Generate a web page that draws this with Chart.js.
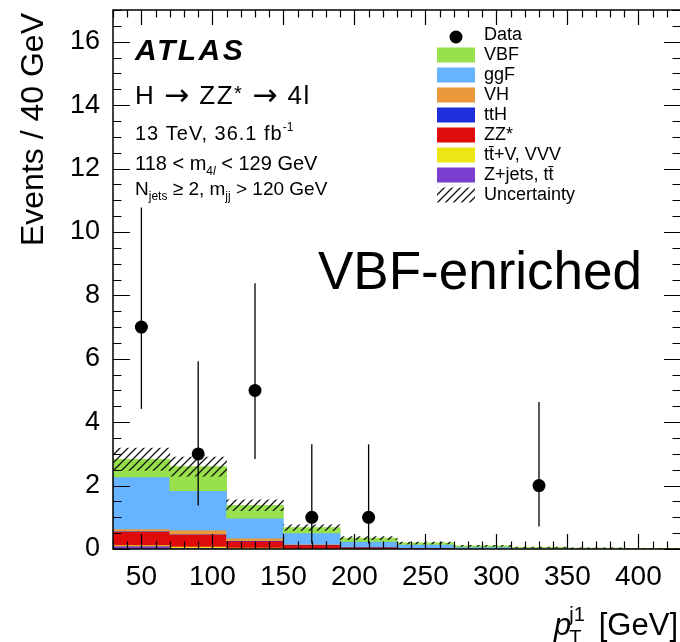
<!DOCTYPE html>
<html>
<head>
<meta charset="utf-8">
<script src="https://cdn.jsdelivr.net/npm/chart.js@4.4.1/dist/chart.umd.min.js"></script>
<style>
  html, body { margin: 0; padding: 0; background: #fff; overflow: hidden; }
  #wrap { width: 682px; height: 642px; }
</style>
</head>
<body>
<div id="wrap"><canvas id="c" width="682" height="642"></canvas></div>
<script>
// leading jet pT, 40 GeV bins from 30 to 430 GeV
const binCentres = [50, 90, 130, 170, 210, 250, 290, 330, 370, 410];

// expected yields per bin (stacked bottom -> top)
const zjets = [0.10, 0.04, 0.02, 0.01, 0.005, 0.003, 0, 0, 0, 0];
const ttv   = [0.03, 0.04, 0.03, 0.01, 0.005, 0.002, 0, 0, 0, 0];
const zz    = [0.42, 0.38, 0.20, 0.11, 0.05, 0.03, 0.01, 0.005, 0.003, 0.002];
const tth   = [0.01, 0.01, 0.01, 0.005, 0.002, 0.001, 0, 0, 0, 0];
const vh    = [0.07, 0.12, 0.08, 0.02, 0.01, 0.005, 0.003, 0, 0, 0];
const ggf   = [1.64, 1.25, 0.63, 0.35, 0.17, 0.10, 0.05, 0.02, 0.012, 0.008];
const vbf   = [0.56, 0.76, 0.41, 0.17, 0.10, 0.05, 0.035, 0.025, 0.015, 0.01];
const uncErr = [0.35, 0.30, 0.17, 0.09, 0.05, 0.03, 0.02, 0.01, 0.008, 0.005];

// observed data with asymmetric (Poisson) error bars
const dataX    = [50, 90, 130, 170, 210, 330];
const dataY    = [7, 3, 5, 1, 1, 2];
const dataLow  = [4.42, 1.37, 2.84, 0.17, 0.17, 0.71];
const dataHigh = [10.77, 5.92, 8.38, 3.30, 3.30, 4.64];

const xTickValues = [50, 100, 150, 200, 250, 300, 350, 400];
const yTickValues = [0, 2, 4, 6, 8, 10, 12, 14, 16];

const FONT = '"Liberation Sans", Arial, Helvetica, sans-serif';
Chart.defaults.color = '#000';
Chart.defaults.font.family = FONT;

// hatch pattern for the uncertainty band
const pc = document.createElement('canvas');
pc.width = 8; pc.height = 8;
const pg = pc.getContext('2d');
pg.strokeStyle = '#111';
pg.lineWidth = 1.3;
pg.beginPath();
pg.moveTo(0, 8); pg.lineTo(8, 0);
pg.moveTo(-2, 2); pg.lineTo(2, -2);
pg.moveTo(6, 10); pg.lineTo(10, 6);
pg.stroke();
const hatch = pg.createPattern(pc, 'repeat');

const components = [
  { name: 'Z+jets, tt\u0304', values: zjets, color: '#7a3fd0' },
  { name: 'tt\u0304+V, VVV', values: ttv,   color: '#ebe614' },
  { name: 'ZZ*',             values: zz,    color: '#e00b0b' },
  { name: 'ttH',             values: tth,   color: '#1f2fdc' },
  { name: 'VH',              values: vh,    color: '#ea9a3a' },
  { name: 'ggF',             values: ggf,   color: '#66b3ff' },
  { name: 'VBF',             values: vbf,   color: '#98e04c' }
];

const totals = binCentres.map(() => 0);
const barSets = components.map(c => {
  const data = binCentres.map((x, i) => {
    const lo = totals[i];
    totals[i] = lo + c.values[i];
    return { x: x, y: [lo, totals[i]] };
  });
  return {
    type: 'bar', label: c.name, data: data, backgroundColor: c.color,
    borderWidth: 0, grouped: false, categoryPercentage: 1, barPercentage: 1
  };
});

const uncSet = {
  type: 'bar', label: 'Uncertainty',
  data: binCentres.map((x, i) => ({ x: x, y: [totals[i] - uncErr[i], totals[i] + uncErr[i]] })),
  backgroundColor: hatch, borderWidth: 0, grouped: false, categoryPercentage: 1, barPercentage: 1
};

const dataSet = {
  type: 'scatter', label: 'Data',
  data: dataX.map((x, i) => ({ x: x, y: dataY[i] })),
  pointRadius: 6.5, pointBackgroundColor: '#000', pointBorderWidth: 0
};

function setFont(ctx, p) {
  ctx.font = (p.style || '') + ' ' + p.size + 'px ' + (p.family || FONT);
  ctx.letterSpacing = (p.ls || 0) + 'px';
}

function richWidth(ctx, parts) {
  let w = 0;
  parts.forEach(p => {
    setFont(ctx, p);
    if (!p.noAdvance) w += ctx.measureText(p.t).width + (p.dx || 0);
  });
  return w;
}

function drawRich(ctx, x, y, parts) {
  let cx = x;
  parts.forEach(p => {
    setFont(ctx, p);
    ctx.fillText(p.t, cx + (p.dx || 0), y + (p.dy || 0));
    if (!p.noAdvance) cx += ctx.measureText(p.t).width + (p.dx || 0);
  });
  ctx.letterSpacing = '0px';
}

const decor = {
  id: 'decor',
  afterDatasetsDraw(chart) {
    const ctx = chart.ctx, xs = chart.scales.x, ys = chart.scales.y;
    ctx.save();
    ctx.strokeStyle = '#000';
    ctx.lineWidth = 1.3;
    dataX.forEach((x, i) => {
      const px = xs.getPixelForValue(x);
      ctx.beginPath();
      ctx.moveTo(px, ys.getPixelForValue(dataLow[i]));
      ctx.lineTo(px, ys.getPixelForValue(dataHigh[i]));
      ctx.stroke();
    });
    ctx.restore();
  },
  afterDraw(chart) {
    const ctx = chart.ctx, a = chart.chartArea, xs = chart.scales.x, ys = chart.scales.y;
    ctx.save();
    ctx.strokeStyle = '#000';
    // inner ticks
    ctx.lineWidth = 1.2;
    ctx.beginPath();
    for (let v = xs.min; v <= xs.max + 1e-6; v += 10) {
      const px = Math.round(xs.getPixelForValue(v)) + 0.5;
      const len = v % 50 === 0 ? 15 : 7.5;
      ctx.moveTo(px, a.bottom); ctx.lineTo(px, a.bottom - len);
      ctx.moveTo(px, a.top); ctx.lineTo(px, a.top + len);
    }
    for (let v = ys.min; v <= ys.max + 1e-6; v += 0.5) {
      const py = Math.round(ys.getPixelForValue(v)) + 0.5;
      const len = v % 2 === 0 ? 17 : 8.5;
      ctx.moveTo(a.left, py); ctx.lineTo(a.left + len, py);
      ctx.moveTo(a.right, py); ctx.lineTo(a.right - len, py);
    }
    ctx.stroke();
    // frame
    ctx.lineWidth = 1.5;
    ctx.strokeRect(a.left, a.top, a.right - a.left, a.bottom - a.top);

    ctx.fillStyle = '#000';
    ctx.textBaseline = 'alphabetic';
    ctx.textAlign = 'left';

    // y axis title, top aligned like ROOT
    ctx.save();
    ctx.translate(43, 13);
    ctx.rotate(-Math.PI / 2);
    ctx.textAlign = 'right';
    ctx.font = '32px ' + FONT;
    ctx.fillText('Events / 40 GeV', 0, 0);
    ctx.restore();

    // labels
    drawRich(ctx, 135, 60, [{ t: 'ATLAS', size: 30, style: 'italic bold', ls: 2.5 }]);
    drawRich(ctx, 135, 104, [
      { t: 'H ', size: 26, ls: 1.5 },
      { t: '\u2192', size: 30, family: '"DejaVu Sans"', dy: 1, ls: 1.5 },
      { t: ' ZZ', size: 26, ls: 1.5 }, { t: '*', size: 20, dy: -4, ls: 1.5 }, { t: ' ', size: 26, ls: 1.5 },
      { t: '\u2192', size: 30, family: '"DejaVu Sans"', dy: 1, ls: 1.5 },
      { t: ' 4l', size: 26, ls: 1.5 }
    ]);
    drawRich(ctx, 135, 140, [
      { t: '13 TeV, 36.1 fb', size: 20, ls: 1 }, { t: '-1', size: 12, dy: -9 }
    ]);
    drawRich(ctx, 135, 170, [
      { t: '118 < m', size: 20 }, { t: '4', size: 12, dy: 5 }, { t: 'l', size: 12, dy: 5, style: 'italic' },
      { t: ' < 129 GeV', size: 20 }
    ]);
    drawRich(ctx, 135, 195, [
      { t: 'N', size: 19 }, { t: 'jets', size: 12, dy: 5 }, { t: ' \u2265 2, m', size: 19 },
      { t: 'jj', size: 12, dy: 5 }, { t: ' > 120 GeV', size: 19 }
    ]);
    ctx.font = '53px ' + FONT;
    ctx.fillText('VBF-enriched', 318, 289);

    // legend
    const lx = 437, lw = 38, lh = 15, tx = 484, y0 = 35, dy = 20;
    ctx.textBaseline = 'middle';
    ctx.font = '18px ' + FONT;
    ctx.beginPath();
    ctx.arc(lx + lw / 2, y0 + 2, 6.5, 0, Math.PI * 2);
    ctx.fill();
    ctx.fillText('Data', tx, y0);
    const legendItems = components.slice().reverse();
    legendItems.forEach((c, i) => {
      const cy = y0 + dy * (i + 1);
      ctx.fillStyle = c.color;
      ctx.fillRect(lx, cy - lh / 2, lw, lh);
      ctx.fillStyle = '#000';
      ctx.fillText(c.name, tx, cy);
    });
    const uy = y0 + dy * (legendItems.length + 1);
    ctx.fillStyle = hatch;
    ctx.fillRect(lx, uy - lh / 2, lw, lh);
    ctx.fillStyle = '#000';
    ctx.fillText('Uncertainty', tx, uy);

    // x axis title, right aligned
    ctx.textBaseline = 'alphabetic';
    const parts = [
      { t: 'p', size: 31, style: 'italic' },
      { t: 'j1', size: 20, dy: -14, dx: -2, noAdvance: true },
      { t: 'T', size: 20, dy: 9, dx: -2 },
      { t: '  [GeV]', size: 31 }
    ];
    const w = richWidth(ctx, parts);
    drawRich(ctx, 678 - w, 635, parts);
    ctx.restore();
  }
};

new Chart(document.getElementById('c'), {
  type: 'bar',
  data: { datasets: [dataSet, uncSet].concat(barSets.slice().reverse()) },
  options: {
    responsive: false,
    animation: false,
    devicePixelRatio: 1,
    layout: { autoPadding: false, padding: { top: 10, right: 1, left: 0, bottom: 0 } },
    plugins: { legend: { display: false }, tooltip: { enabled: false } },
    scales: {
      x: {
        type: 'linear', min: 30, max: 430, offset: false,
        grid: { display: false, drawTicks: false },
        border: { display: false },
        ticks: { font: { size: 28 }, padding: 11, maxRotation: 0 },
        afterBuildTicks: s => { s.ticks = xTickValues.map(v => ({ value: v })); },
        afterFit: s => { s.height = 93; s.paddingLeft = 0; s.paddingRight = 0; }
      },
      y: {
        min: 0, max: 17,
        grid: { display: false, drawTicks: false },
        border: { display: false },
        ticks: { font: { size: 27 }, padding: 13 },
        afterBuildTicks: s => { s.ticks = yTickValues.map(v => ({ value: v })); },
        afterFit: s => { s.width = 113; s.paddingTop = 0; s.paddingBottom = 0; }
      }
    }
  },
  plugins: [decor]
});
</script>
</body>
</html>
